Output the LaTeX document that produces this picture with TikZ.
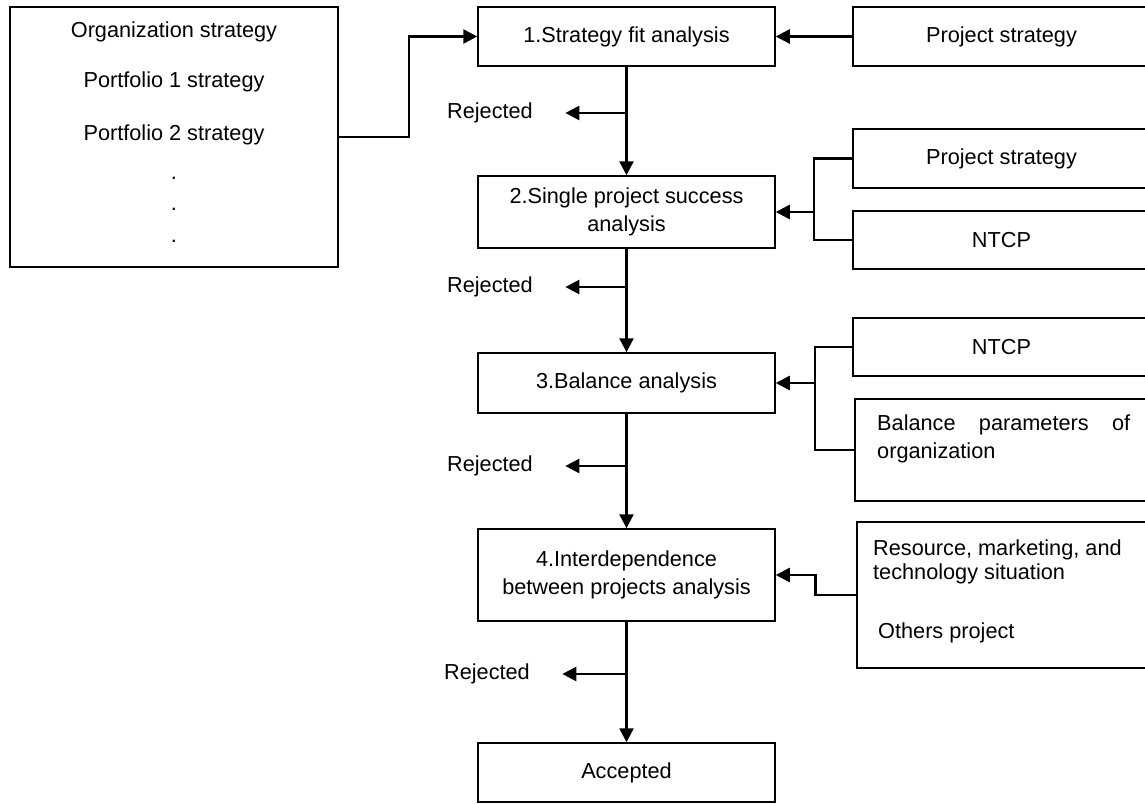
\documentclass[tikz,border=0pt]{standalone}
\usepackage{fontspec}
\setmainfont{Liberation Sans}
\usetikzlibrary{arrows.meta,positioning}

\begin{document}
\begin{tikzpicture}[x=1pt,y=-1pt,
    font=\fontsize{21.7}{27.5}\selectfont,
    box/.style={draw,line width=1.5pt,minimum width=297,align=center,inner sep=0},
    link/.style={line width=2.5pt},
    arr/.style={line width=2.5pt,-{Triangle[length=14pt,width=14pt]}}]
\useasboundingbox (0,0) rectangle (1145,803);

\node[box,minimum width=328,minimum height=260] (org) at (174,137) {};
\foreach \t/\y [count=\i] in {Organization strategy/32,Portfolio 1 strategy/82,Portfolio 2 strategy/135}
    \node (org\i) at (174,\y) {\t};
\foreach \y [count=\i] in {179.5,210.5,242.5}
    \node[anchor=base] (dot\i) at (174,\y) {.};

\node[box,minimum height=59] (s1) at (626.5,36.5) {1.Strategy fit analysis};
\node[box,minimum height=72] (s2) at (626.5,212) {2.Single project success\\analysis};
\node[box,minimum height=60] (s3) at (626.5,383) {3.Balance analysis};
\node[box,minimum height=92] (s4) at (626.5,575) {4.Interdependence\\between projects analysis};
\node[box,minimum height=59] (acc) at (626.5,772.5) {Accepted};

\node[box,minimum height=59] (p1) at (1001.5,36.5) {Project strategy};
\node[box,minimum height=59] (p2) at (1001.5,158.5) {Project strategy};
\node[box,minimum height=58] (n2) at (1001.5,240) {NTCP};
\node[box,minimum height=58] (n3) at (1001.5,347) {NTCP};
\node[box,minimum height=102] (bal) at (1003.5,450) {};
\node[box,minimum height=146] (res) at (1005.5,595) {};

\node[anchor=north west,text width=253,align=justify,inner sep=0] (bal-t) at (877,415)
    {Balance parameters of \mbox{organization}};
\node[anchor=north west,align=left,inner sep=0,font=\fontsize{21.7}{24}\selectfont] (res-t) at (873,540)
    {Resource, marketing, and\\technology situation};
\node[anchor=west,inner sep=0] (oth-t) at (878,633) {Others project};

\draw[arr] (org.east) -- ++(70,0) |- (s1.west);
\draw[arr] (p1.west) -- (s1.east);
\draw[arr] (s1) -- (s2);
\draw[arr] (s2) -- (s3);
\draw[arr] (s3) -- (s4);
\draw[arr] (s4) -- (acc);

\foreach \n/\x/\y [count=\i] in {s1/490/113,s2/490/287,s3/490/466,s4/487/674}
{
    \node (rej\i) at (\x,\y) {Rejected};
    \draw[arr] (\n.south |- rej\i) -- ([xshift=29]rej\i.east);
}

\coordinate (j2) at (814,212);
\draw[link] (p2.west) -| (j2) |- (n2.west);
\draw[arr] (j2) -- (s2.east);

\coordinate (j3) at (815,383);
\draw[link] (n3.west) -| (j3) |- (bal.west);
\draw[arr] (j3) -- (s3.east);

\draw[arr] (res.west) -- ++(-41,0) |- (s4.east);
\end{tikzpicture}
\end{document}
